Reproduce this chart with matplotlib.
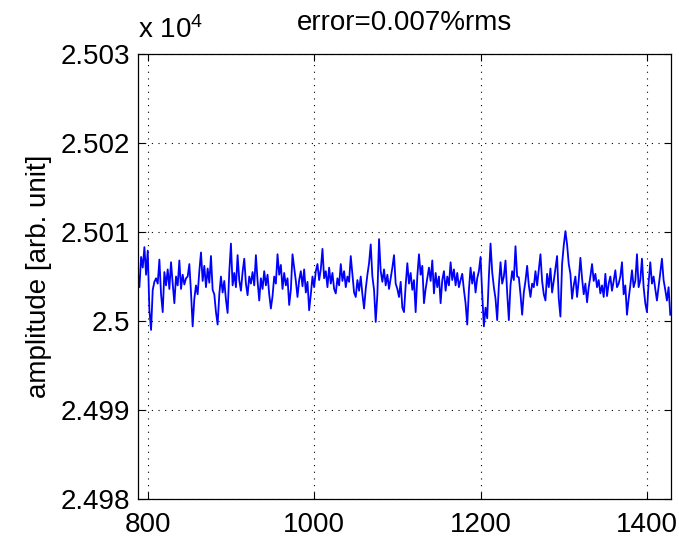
import numpy as np
import matplotlib
matplotlib.use("Agg")
import matplotlib.pyplot as plt

# ---------------- data ----------------
x_start, x_stop, x_step = 788, 1428, 2
amplitude = [
    25005.5, 25003.8, 25007.2, 25006.0, 25008.3, 25005.2, 25007.9, 25001.2, 24999.0, 25003.5,
    25004.4, 25004.8, 25004.2, 25006.9, 25003.0, 25001.0, 25005.5, 25004.0, 25005.8, 25003.6,
    25006.6, 25004.2, 25002.0, 25005.0, 25004.0, 25006.8, 25003.6, 25005.2, 25004.1, 25004.8,
    25005.0, 25006.4, 25003.2, 24999.4, 25002.5, 25004.0, 25003.0, 25005.6, 25007.7, 25004.5,
    25006.2, 25003.8, 25005.9, 25004.3, 25007.3, 25003.5, 25003.0, 25001.0, 24999.6, 25003.0,
    25005.0, 25003.2, 25004.5, 25002.4, 25000.9, 25005.5, 25008.7, 25004.0, 25005.4, 25003.8,
    25007.4, 25004.6, 25003.4, 25005.5, 25007.0, 25004.2, 25002.9, 25005.0, 25004.2, 25005.5,
    25004.0, 25007.4, 25004.5, 25002.3, 25004.8, 25003.6, 25005.6, 25004.0, 25005.2, 25003.0,
    25001.4, 25002.8, 25005.0, 25004.2, 25007.5, 25005.2, 25006.3, 25003.6, 25005.4, 25004.0,
    25004.8, 25001.8, 25003.5, 25007.5, 25006.0, 25004.5, 25002.7, 25004.6, 25005.6, 25003.9,
    25005.8, 25003.2, 25004.4, 25001.2, 25003.0, 25005.0, 25003.8, 25005.6, 25006.4, 25004.6,
    25005.8, 25008.1, 25004.8, 25005.6, 25003.8, 25006.0, 25004.2, 25005.4, 25003.6, 25003.1,
    25004.8, 25004.0, 25006.4, 25004.5, 25005.6, 25003.8, 25005.0, 25004.4, 25007.3, 25005.2,
    25003.2, 25002.7, 25004.6, 25003.4, 25005.0, 25003.0, 25001.4, 25003.6, 25005.2, 25006.5,
    25008.6, 25005.0, 25003.5, 24999.9, 25003.0, 25009.2, 25005.6, 25004.4, 25005.8, 25004.0,
    25005.2, 25003.6, 25004.8, 25006.0, 25007.4, 25004.2, 25003.6, 25002.7, 25004.4, 25001.5,
    25001.0, 25004.0, 25006.5, 25004.2, 25005.4, 25003.5, 25004.6, 25001.0, 25005.0, 25007.5,
    25005.2, 25006.2, 25002.0, 25003.6, 25004.8, 25006.0, 25004.5, 25006.8, 25003.1, 25005.4,
    25003.8, 25005.0, 25002.0, 25004.6, 25005.6, 25003.4, 25005.0, 25004.0, 25006.6, 25004.6,
    25005.8, 25004.0, 25005.4, 25003.8, 25004.6, 25005.3, 25003.5, 25002.0, 24999.6, 25003.5,
    25006.0, 25004.2, 25005.5, 25003.2, 25004.8, 25005.6, 25007.2, 25003.0, 24999.4, 25001.5,
    25000.3, 25005.0, 25008.7, 25005.5, 25003.8, 25002.5, 25000.1, 25004.0, 25006.6, 25004.2,
    25005.0, 25006.8, 25003.2, 25000.1, 25004.0, 25005.6, 25004.6, 25008.4, 25005.0, 25004.9,
    25003.0, 25000.7, 25003.2, 25004.5, 25006.2, 25004.0, 25002.7, 25004.2, 25003.8, 25005.6,
    25004.0, 25005.8, 25007.5, 25004.5, 25003.0, 25002.3, 25005.3, 25003.8, 25005.9, 25003.2,
    25004.5, 25005.9, 25007.3, 25002.5, 25000.5, 25006.4, 25008.5, 25010.1, 25008.6, 25006.4,
    25005.3, 25002.5, 25004.0, 25005.0, 25002.7, 25004.6, 25007.1, 25004.8, 25003.0, 25004.2,
    25002.1, 25003.8, 25005.0, 25006.4, 25004.5, 25005.3, 25003.8, 25004.6, 25003.1, 25004.0,
    25002.7, 25005.3, 25002.8, 25004.2, 25005.0, 25003.4, 25004.5, 25005.7, 25003.8, 25004.2,
    25005.0, 25006.6, 25003.0, 25004.0, 25000.7, 25002.5, 25004.0, 25005.7, 25003.8, 25004.5,
    25007.5, 25003.8, 25004.6, 25007.0, 25003.8, 25002.0, 25001.0, 25004.3, 25006.6, 25004.2,
    25005.0, 25003.6, 25002.3, 25003.8, 25005.4, 25007.0, 25004.6, 25003.5, 25002.3, 25003.8,
    25000.7,
]
xtick_values = [800, 1000, 1200, 1400]
ytick_values = [24980, 24990, 25000, 25010, 25020, 25030]
ytick_labels = ["2.498", "2.499", "2.5", "2.501", "2.502", "2.503"]
title_text = "error=0.007%rms"
ylabel_text = "amplitude [arb. unit]"
exponent_text = r"x 10$^4$"

x = np.arange(x_start, x_stop + 1, x_step)
y = np.array(amplitude)

# ---------------- style ----------------
plt.rcParams["font.family"] = ["Liberation Sans", "DejaVu Sans"]
plt.rcParams["mathtext.fontset"] = "custom"
plt.rcParams["mathtext.rm"] = "Liberation Sans"
plt.rcParams["mathtext.it"] = "Liberation Sans"
plt.rcParams["mathtext.bf"] = "Liberation Sans"

FS = 20
fig = plt.figure(figsize=(6.79, 5.40), dpi=100)
ax = fig.add_axes([138 / 679, 1 - 499 / 540, (671 - 138) / 679, (499 - 54) / 540])

ax.plot(x, y, color="#0000ff", lw=1.3)

ax.set_xlim(788.3, 1428.9)
ax.set_ylim(24980, 25030)
ax.set_xticks(xtick_values)
ax.set_xticklabels([str(v) for v in xtick_values])
ax.set_yticks(ytick_values)
ax.set_yticklabels(ytick_labels)

ax.grid(True, color="black", linestyle=(0, (1, 5)), linewidth=0.8)
ax.tick_params(direction="in", length=5, width=0.8, top=True, right=True,
               labelsize=FS, colors="black")
ax.tick_params(axis="y", pad=6)
ax.tick_params(axis="x", pad=9)
for s in ax.spines.values():
    s.set_linewidth(0.9)
    s.set_color("black")

ax.set_title(title_text, fontsize=FS, pad=17)
ax.set_ylabel(ylabel_text, fontsize=FS, labelpad=6)
ax.text(0.0, 1.0 + 16 / 445, exponent_text, transform=ax.transAxes, fontsize=FS,
        ha="left", va="baseline")

fig.savefig("out.png", dpi=100, facecolor="white")
